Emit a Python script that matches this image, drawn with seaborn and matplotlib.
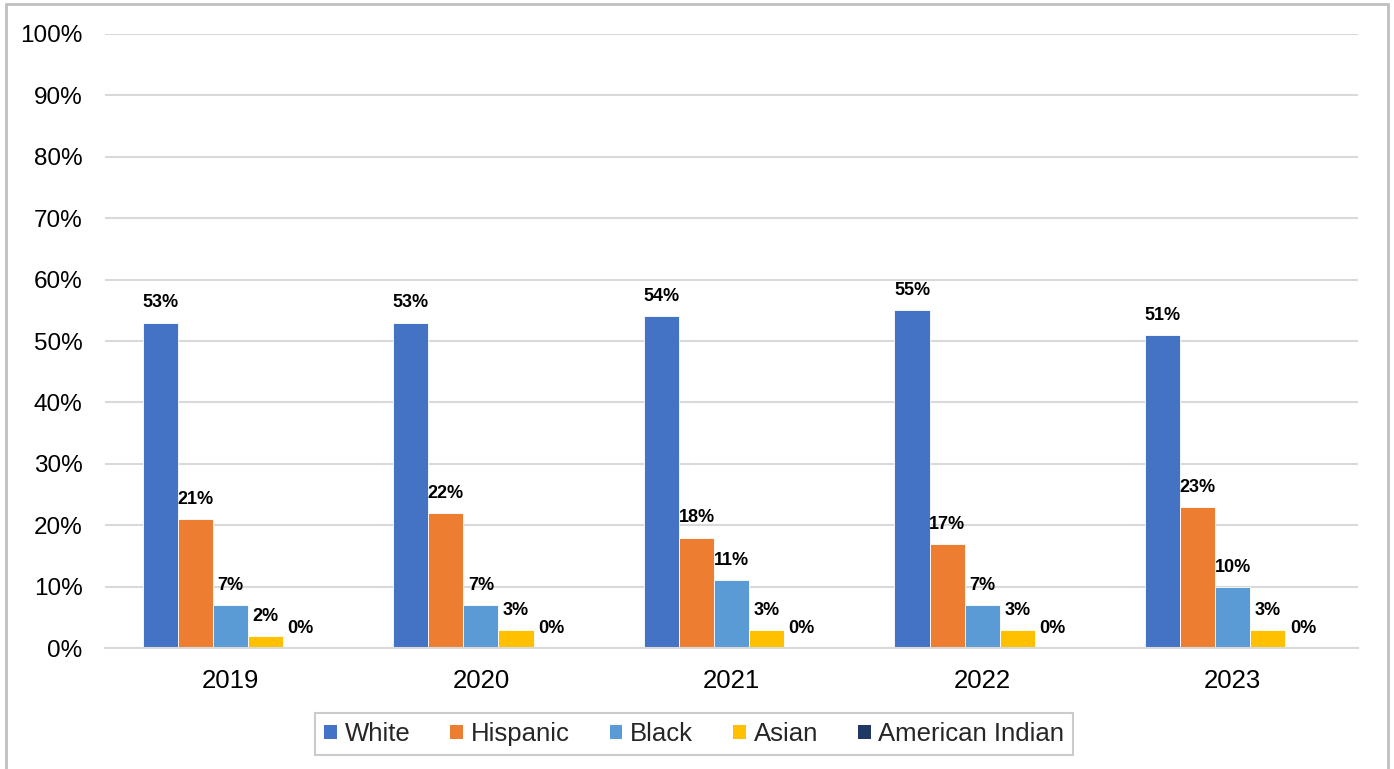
import matplotlib
matplotlib.use("Agg")
import matplotlib.pyplot as plt
import matplotlib.patches as mpatches
import pandas as pd
import seaborn as sns

years = ["2019", "2020", "2021", "2022", "2023"]
groups = ["White", "Hispanic", "Black", "Asian", "American Indian"]
white = [53, 53, 54, 55, 51]
hispanic = [21, 22, 18, 17, 23]
black = [7, 7, 11, 7, 10]
asian = [2, 3, 3, 3, 3]
american_indian = [0, 0, 0, 0, 0]
colors = ["#4472C4", "#ED7D31", "#5B9BD5", "#FFC000", "#203864"]

series = [white, hispanic, black, asian, american_indian]
rows = []
for g, vals in zip(groups, series):
    for y, v in zip(years, vals):
        rows.append({"year": y, "group": g, "value": v})
df = pd.DataFrame(rows)

sns.set_theme(style="white")
plt.rcParams["font.family"] = ["Liberation Sans", "DejaVu Sans"]

fig = plt.figure(figsize=(13.94, 7.69), dpi=100)
ax = fig.add_axes([0.0753, 0.1573, 0.8990, 0.7985])

sns.barplot(data=df, x="year", y="value", hue="group", order=years,
            hue_order=groups, palette=colors, saturation=1, width=0.7, gap=0,
            edgecolor="white", linewidth=0.6, ax=ax)

for cont, vals in zip(ax.containers, series):
    ax.bar_label(cont, labels=[f"{v}%" for v in vals], padding=8,
                 fontsize=13, fontweight="bold", color="#000000")

ax.set_ylim(0, 100)
ax.set_xlim(-0.5, len(years) - 0.5)
ax.set_yticks(range(0, 101, 10))
ax.set_yticklabels([f"{t}%" for t in range(0, 101, 10)])
ax.tick_params(axis="y", length=0, pad=16, labelsize=17.5, colors="#000000")
ax.tick_params(axis="x", length=0, pad=15, labelsize=18.5, colors="#000000")
ax.set_xlabel("")
ax.set_ylabel("")
ax.yaxis.grid(True, color="#D9D9D9", linewidth=1.5)
ax.set_axisbelow(True)
for side in ["left", "right", "top"]:
    ax.spines[side].set_visible(False)
ax.spines["bottom"].set_color("#D9D9D9")
ax.spines["bottom"].set_linewidth(1.5)

ax.legend_.remove()
handles = [mpatches.Patch(facecolor=c, edgecolor="none", label=g)
           for g, c in zip(groups, colors)]
leg = fig.legend(handles=handles, loc="center", bbox_to_anchor=(0.498, 0.0455),
                 ncol=5, frameon=True, fancybox=False, fontsize=18.5,
                 handlelength=0.5, handleheight=0.5, handletextpad=0.3,
                 columnspacing=1.55, borderpad=0.35, borderaxespad=0)
leg.get_frame().set_edgecolor("#BFBFBF")
leg.get_frame().set_linewidth(1.5)

fig.patches.append(mpatches.Rectangle((6 / 1394, -0.05), 1382 / 1394, 1.05 - 4 / 769,
                                      transform=fig.transFigure, fill=False,
                                      edgecolor="#BFBFBF", linewidth=2))

fig.savefig("out.png", dpi=100)
